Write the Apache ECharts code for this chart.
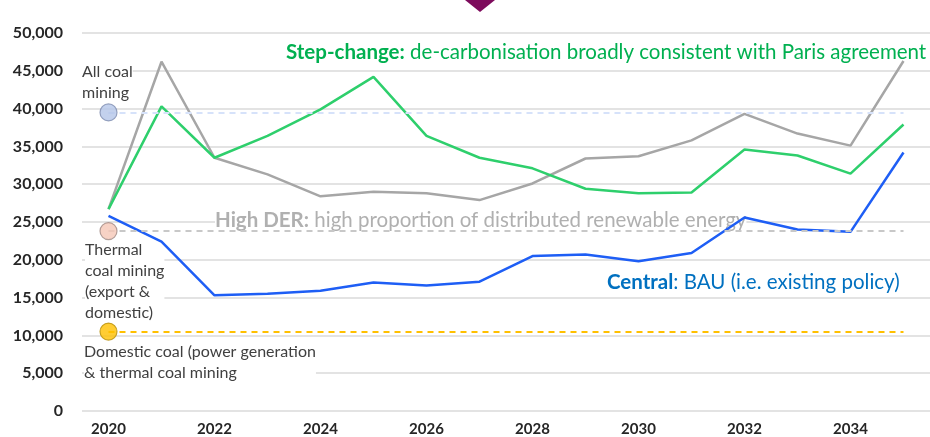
<!DOCTYPE html>
<html>
<head>
<meta charset="utf-8">
<script src="https://cdn.jsdelivr.net/npm/echarts@6/dist/echarts.min.js"></script>
<style>
  html, body { margin: 0; padding: 0; background: #fff; }
  #chart { width: 930px; height: 437px; }
</style>
</head>
<body>
<div id="chart"></div>
<script>
// years on the x axis
var years = ['2020', '2021', '2022', '2023', '2024', '2025', '2026', '2027',
             '2028', '2029', '2030', '2031', '2032', '2033', '2034', '2035'];
// High DER scenario (grey)
var highDer = [26700, 46200, 33500, 31300, 28400, 29000, 28800, 27900,
               30100, 33400, 33700, 35800, 39300, 36700, 35100, 46300];
// Step-change scenario (green)
var stepChange = [26700, 40300, 33500, 36400, 39900, 44200, 36400, 33500,
                  32100, 29400, 28800, 28900, 34600, 33800, 31400, 37900];
// Central scenario (blue)
var central = [25800, 22400, 15300, 15500, 15900, 17000, 16600, 17100,
               20500, 20700, 19800, 20900, 25600, 24000, 23700, 34200];
// reference levels (dashed lines + markers)
var allCoalMining = 39500;
var thermalCoalMining = 23800;
var domesticCoal = 10500;

var chart = echarts.init(document.getElementById('chart'));

function refLine(value, color) {
  return {
    type: 'line',
    data: [],
    markLine: {
      silent: true,
      symbol: ['none', 'none'],
      label: { show: false },
      lineStyle: { color: color, type: [6, 5], width: 2 },
      data: [[{ coord: [years[0], value] }, { coord: [years[years.length - 1], value] }]]
    }
  };
}

function refDot(value, fill, border) {
  return {
    type: 'scatter',
    data: [[years[0], value]],
    symbolSize: 17,
    z: 5,
    itemStyle: { color: fill, borderColor: border, borderWidth: 1.2 }
  };
}

var labelFont = 'Lato, "Open Sans", sans-serif';

// text box with white background, above gridlines but under the series lines
function note(left, top, style) {
  style.backgroundColor = '#fff';
  return { type: 'text', left: left, top: top, z: 1, style: style };
}

function scenarioText(left, top, text, color) {
  return note(left, top, {
    text: text,
    font: '20.5px ' + labelFont, fill: color,
    rich: { b: { fontWeight: 'bold', fontSize: 20.5, fill: color, fontFamily: labelFont } }
  });
}

var option = {
  animation: false,
  grid: { left: 82, right: 0, top: 33, bottom: 24 },
  xAxis: {
    type: 'category',
    data: years,
    boundaryGap: true,
    axisLine: { show: false },
    axisTick: { show: false },
    axisLabel: {
      interval: 1,
      margin: 11,
      fontSize: 15,
      fontWeight: 'bold',
      color: '#262626',
      fontFamily: labelFont
    }
  },
  yAxis: {
    type: 'value',
    min: 0,
    max: 50000,
    interval: 5000,
    axisLabel: {
      margin: 19,
      fontSize: 16,
      fontWeight: 'bold',
      color: '#262626',
      fontFamily: labelFont,
      formatter: function (v) { return v.toLocaleString('en-US'); }
    },
    splitLine: { lineStyle: { color: '#e3e3e3', width: 2 } }
  },
  series: [
    refLine(allCoalMining, '#d6e2fa'),
    refLine(thermalCoalMining, '#c8c8c8'),
    refLine(domesticCoal, '#ffc000'),
    {
      name: 'High DER', type: 'line', data: highDer, symbol: 'none', z: 3,
      lineStyle: { color: '#a6a6a6', width: 2.5 }
    },
    {
      name: 'Step-change', type: 'line', data: stepChange, symbol: 'none', z: 3,
      lineStyle: { color: '#2ecf6c', width: 2.5 }
    },
    {
      name: 'Central', type: 'line', data: central, symbol: 'none', z: 3,
      lineStyle: { color: '#1e5ef5', width: 2.5 }
    },
    refDot(allCoalMining, '#b4c5e8', '#7f8db0'),
    refDot(thermalCoalMining, '#f5c7b7', '#a08a85'),
    refDot(domesticCoal, '#ffc000', '#b8900a')
  ],
  graphic: [
    // purple marker peeking in at the top
    { type: 'polygon', shape: { points: [[465, 0], [495, 0], [480, 12]] }, style: { fill: '#7d0b5c' } },
    note(82, 61, { text: 'All coal\nmining', font: '16px ' + labelFont, fill: '#404040', lineHeight: 21 }),
    note(85, 239, { text: 'Thermal\ncoal mining\n(export &\ndomestic)', font: '16px ' + labelFont, fill: '#404040', lineHeight: 21 }),
    note(84, 341, { text: 'Domestic coal (power generation\n& thermal coal mining', font: '16px ' + labelFont, fill: '#404040', lineHeight: 21 }),
    scenarioText(286, 42, '{b|Step-change:} de-carbonisation broadly consistent with Paris agreement', '#00b050'),
    scenarioText(215, 210, '{b|High DER:} high proportion of distributed renewable energy', '#b0b0b0'),
    scenarioText(607, 272, '{b|Central}: BAU (i.e. existing policy)', '#0070c0')
  ]
};

chart.setOption(option);
</script>
</body>
</html>
